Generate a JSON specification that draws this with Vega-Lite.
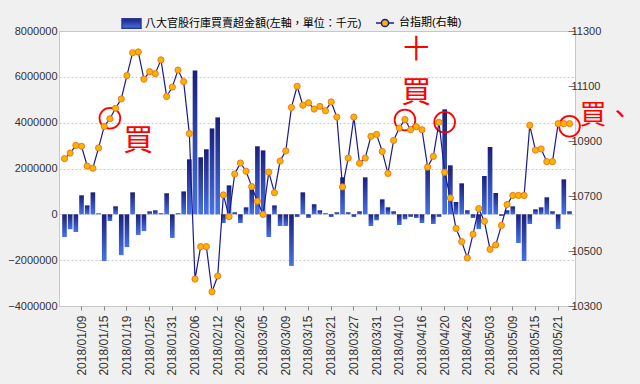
{
  "$schema": "https://vega.github.io/schema/vega-lite/v6.json",
  "width": 516,
  "height": 275,
  "autosize": {"type": "none"},
  "padding": {"left": 59, "top": 31, "right": 65, "bottom": 78},
  "background": "#f0f0f0",
  "config": {
    "view": {"fill": "white", "stroke": "#c8c8c8"},
    "font": "Liberation Sans",
    "axis": {"labelFont": "Liberation Sans", "labelColor": "#333333", "domainColor": "#c8c8c8", "tickColor": "#888888", "gridColor": "#c8c8c8", "gridDash": [2, 2]},
    "legend": {"labelFont": "Liberation Sans, Noto Sans CJK TC", "labelFontSize": 11, "labelColor": "#000000", "padding": 0, "labelLimit": 400}
  },
  "data": {"values": [
    {"date": "2018/01/04", "amount": -990000, "index": 10836},
    {"date": "2018/01/05", "amount": -650000, "index": 10856},
    {"date": "2018/01/08", "amount": -770000, "index": 10884},
    {"date": "2018/01/09", "amount": 830000, "index": 10881},
    {"date": "2018/01/10", "amount": 390000, "index": 10809},
    {"date": "2018/01/11", "amount": 960000, "index": 10801},
    {"date": "2018/01/12", "amount": 40000, "index": 10875},
    {"date": "2018/01/15", "amount": -2040000, "index": 10953},
    {"date": "2018/01/16", "amount": -290000, "index": 10981},
    {"date": "2018/01/17", "amount": 350000, "index": 11019},
    {"date": "2018/01/18", "amount": -1780000, "index": 11053},
    {"date": "2018/01/19", "amount": -1430000, "index": 11138},
    {"date": "2018/01/22", "amount": 960000, "index": 11221},
    {"date": "2018/01/23", "amount": -900000, "index": 11224},
    {"date": "2018/01/24", "amount": -730000, "index": 11125},
    {"date": "2018/01/25", "amount": 130000, "index": 11152},
    {"date": "2018/01/26", "amount": 175000, "index": 11145},
    {"date": "2018/01/29", "amount": 45000, "index": 11195},
    {"date": "2018/01/30", "amount": 920000, "index": 11062},
    {"date": "2018/01/31", "amount": -1030000, "index": 11096},
    {"date": "2018/02/01", "amount": 45000, "index": 11158},
    {"date": "2018/02/02", "amount": 1000000, "index": 11116},
    {"date": "2018/02/05", "amount": 2400000, "index": 10927},
    {"date": "2018/02/06", "amount": 6280000, "index": 10398},
    {"date": "2018/02/07", "amount": 2490000, "index": 10516},
    {"date": "2018/02/08", "amount": 2840000, "index": 10516},
    {"date": "2018/02/09", "amount": 3750000, "index": 10352},
    {"date": "2018/02/12", "amount": 4230000, "index": 10409},
    {"date": "2018/02/21", "amount": -380000, "index": 10704},
    {"date": "2018/02/22", "amount": 1265000, "index": 10625},
    {"date": "2018/02/23", "amount": 87000, "index": 10780},
    {"date": "2018/02/26", "amount": -380000, "index": 10820},
    {"date": "2018/02/27", "amount": 305000, "index": 10790},
    {"date": "2018/03/01", "amount": 1180000, "index": 10734},
    {"date": "2018/03/02", "amount": 2970000, "index": 10681},
    {"date": "2018/03/05", "amount": 2790000, "index": 10633},
    {"date": "2018/03/06", "amount": -990000, "index": 10787},
    {"date": "2018/03/07", "amount": 390000, "index": 10712},
    {"date": "2018/03/08", "amount": -510000, "index": 10827},
    {"date": "2018/03/09", "amount": -510000, "index": 10864},
    {"date": "2018/03/12", "amount": -2250000, "index": 11022},
    {"date": "2018/03/13", "amount": -116000, "index": 11099},
    {"date": "2018/03/14", "amount": 960000, "index": 11030},
    {"date": "2018/03/15", "amount": -160000, "index": 11039},
    {"date": "2018/03/16", "amount": 436000, "index": 11016},
    {"date": "2018/03/19", "amount": 175000, "index": 11026},
    {"date": "2018/03/20", "amount": 44000, "index": 11010},
    {"date": "2018/03/21", "amount": -116000, "index": 11042},
    {"date": "2018/03/22", "amount": 87000, "index": 10987},
    {"date": "2018/03/23", "amount": 1614000, "index": 10733},
    {"date": "2018/03/26", "amount": 87000, "index": 10838},
    {"date": "2018/03/27", "amount": -116000, "index": 10987},
    {"date": "2018/03/28", "amount": 131000, "index": 10819},
    {"date": "2018/03/29", "amount": 1614000, "index": 10838},
    {"date": "2018/03/30", "amount": -509000, "index": 10917},
    {"date": "2018/03/31", "amount": -262000, "index": 10924},
    {"date": "2018/04/02", "amount": 655000, "index": 10862},
    {"date": "2018/04/03", "amount": 305000, "index": 10782},
    {"date": "2018/04/09", "amount": 131000, "index": 10902},
    {"date": "2018/04/10", "amount": -465000, "index": 10947},
    {"date": "2018/04/11", "amount": -218000, "index": 10978},
    {"date": "2018/04/12", "amount": -116000, "index": 10941},
    {"date": "2018/04/13", "amount": -160000, "index": 10952},
    {"date": "2018/04/16", "amount": -378000, "index": 10941},
    {"date": "2018/04/17", "amount": 2182000, "index": 10805},
    {"date": "2018/04/18", "amount": -422000, "index": 10844},
    {"date": "2018/04/19", "amount": -116000, "index": 10968},
    {"date": "2018/04/20", "amount": 4582000, "index": 10786},
    {"date": "2018/04/23", "amount": 2138000, "index": 10693},
    {"date": "2018/04/24", "amount": 538000, "index": 10582},
    {"date": "2018/04/25", "amount": 1353000, "index": 10534},
    {"date": "2018/04/26", "amount": 175000, "index": 10475},
    {"date": "2018/04/27", "amount": -160000, "index": 10561},
    {"date": "2018/04/30", "amount": -640000, "index": 10654},
    {"date": "2018/05/02", "amount": 1673000, "index": 10608},
    {"date": "2018/05/03", "amount": 2938000, "index": 10506},
    {"date": "2018/05/04", "amount": 931000, "index": 10522},
    {"date": "2018/05/07", "amount": -73000, "index": 10593},
    {"date": "2018/05/08", "amount": 175000, "index": 10669},
    {"date": "2018/05/09", "amount": 349000, "index": 10702},
    {"date": "2018/05/10", "amount": -1251000, "index": 10702},
    {"date": "2018/05/11", "amount": -2036000, "index": 10702},
    {"date": "2018/05/14", "amount": -422000, "index": 10957},
    {"date": "2018/05/15", "amount": 218000, "index": 10867},
    {"date": "2018/05/16", "amount": 305000, "index": 10871},
    {"date": "2018/05/17", "amount": 742000, "index": 10825},
    {"date": "2018/05/18", "amount": 131000, "index": 10825},
    {"date": "2018/05/21", "amount": -640000, "index": 10963},
    {"date": "2018/05/22", "amount": 1527000, "index": 10963},
    {"date": "2018/05/23", "amount": 131000, "index": 10963}
  ]},
  "layer": [
    {
      "layer": [
        {
          "mark": {"type": "bar", "strokeWidth": 0, "fill": {"gradient": "linear", "x1": 0, "y1": 0, "x2": 0, "y2": 1, "stops": [{"offset": 0, "color": "#1a1f7a"}, {"offset": 1, "color": "#4772e8"}]}},
          "encoding": {
            "x": {"field": "date", "type": "ordinal", "title": null,
              "scale": {"paddingInner": 0.18, "paddingOuter": 0.56},
              "axis": {"values": ["2018/01/09", "2018/01/15", "2018/01/19", "2018/01/25", "2018/01/31", "2018/02/06", "2018/02/12", "2018/02/26", "2018/03/05", "2018/03/09", "2018/03/15", "2018/03/21", "2018/03/27", "2018/03/31", "2018/04/10", "2018/04/16", "2018/04/20", "2018/04/26", "2018/05/03", "2018/05/09", "2018/05/15", "2018/05/21"],
                "labelAngle": -90, "labelFontSize": 12, "tickSize": 4, "labelPadding": 5, "domain": false, "grid": false}},
            "y": {"field": "amount", "type": "quantitative", "title": null,
              "scale": {"domain": [-4000000, 8000000], "nice": false, "zero": false},
              "axis": {"orient": "left", "values": [-4000000, -2000000, 0, 2000000, 4000000, 6000000, 8000000], "format": "d", "ticks": false, "domain": false, "grid": true, "labelFontSize": 11, "labelPadding": 2}},
            "stroke": {"datum": "八大官股行庫買賣超金額(左軸，單位：千元)", "type": "nominal", "scale": {"range": ["#2a3a9a"]},
              "legend": {"title": null, "orient": "none", "legendX": 62, "legendY": -18, "symbolType": "M-1,-0.5H1V0.5H-1Z", "symbolSize": 361, "labelOffset": 3, "labelLimit": 400,
                "encode": {"symbols": {"update": {"fill": {"value": {"gradient": "linear", "x1": 0, "y1": 0, "x2": 0, "y2": 1, "stops": [{"offset": 0, "color": "#1a1f7a"}, {"offset": 1, "color": "#4772e8"}]}}, "strokeWidth": {"value": 0}}}}}}
          }
        },
        {
          "data": {"values": [
            {"date": "2018/01/16", "v": 4190000},
            {"date": "2018/04/11", "v": 4120000},
            {"date": "2018/04/20", "v": 4020000},
            {"date": "2018/05/23", "v": 3840000}
          ]},
          "mark": {"type": "point", "shape": "circle", "filled": false, "stroke": "#ff0000", "strokeWidth": 1.8, "size": 430, "opacity": 1},
          "encoding": {
            "x": {"field": "date", "type": "ordinal"},
            "y": {"field": "v", "type": "quantitative"}
          }
        },
        {
          "data": {"values": [
            {"date": "2018/01/23", "v": 3200000, "t": "買"},
            {"date": "2018/04/13", "v": 5300000, "t": "買"}
          ]},
          "mark": {"type": "text", "color": "#ff0000", "font": "Noto Sans CJK TC", "fontSize": 30, "align": "center", "baseline": "middle"},
          "encoding": {
            "x": {"field": "date", "type": "ordinal"},
            "y": {"field": "v", "type": "quantitative"},
            "text": {"field": "t"}
          }
        },
        {
          "data": {"values": [
            {"date": "2018/04/13", "v": 7150000, "t": "十"}
          ]},
          "mark": {"type": "text", "color": "#ff0000", "font": "Noto Sans CJK TC", "fontSize": 26, "align": "center", "baseline": "middle"},
          "encoding": {
            "x": {"field": "date", "type": "ordinal"},
            "y": {"field": "v", "type": "quantitative"},
            "text": {"field": "t"}
          }
        },
        {
          "data": {"values": [
            {"date": "2018/05/23", "v": 4280000, "t": "買、"}
          ]},
          "mark": {"type": "text", "color": "#ff0000", "font": "Noto Sans CJK TC", "fontSize": 27, "align": "left", "baseline": "middle", "dx": 10},
          "encoding": {
            "x": {"field": "date", "type": "ordinal"},
            "y": {"field": "v", "type": "quantitative"},
            "text": {"field": "t"}
          }
        }
      ]
    },
    {
      "layer": [
        {
          "mark": {"type": "line", "strokeWidth": 1.2},
          "encoding": {
            "x": {"field": "date", "type": "ordinal"},
            "y": {"field": "index", "type": "quantitative", "title": null,
              "scale": {"domain": [10300, 11300], "nice": false, "zero": false},
              "axis": {"orient": "right", "values": [10300, 10500, 10700, 10900, 11100, 11300], "format": "d", "grid": false, "domain": false, "tickSize": -7, "tickColor": "#777777", "labelPadding": 3, "labelFontSize": 11}},
            "color": {"datum": "台指期(右軸)", "type": "nominal", "scale": {"range": ["#1a1a8c"]},
              "legend": {"title": null, "orient": "none", "legendX": 316, "legendY": -18, "symbolType": "M-1,0H-0.4M0.4,0H1M-0.4,0A0.4,0.4,0,1,1,0.4,0A0.4,0.4,0,1,1,-0.4,0Z", "symbolSize": 324, "labelOffset": 4,
                "encode": {"symbols": {"update": {"fill": {"value": "#f7b500"}, "stroke": {"value": "#1a1a8c"}, "strokeWidth": {"value": 1.5}}}}}}
          }
        },
        {
          "mark": {"type": "point", "filled": true, "fill": "#f7b500", "stroke": "#f07820", "strokeWidth": 1, "size": 38, "opacity": 1},
          "encoding": {
            "x": {"field": "date", "type": "ordinal"},
            "y": {"field": "index", "type": "quantitative"}
          }
        }
      ]
    }
  ],
  "resolve": {"scale": {"y": "independent"}}
}
